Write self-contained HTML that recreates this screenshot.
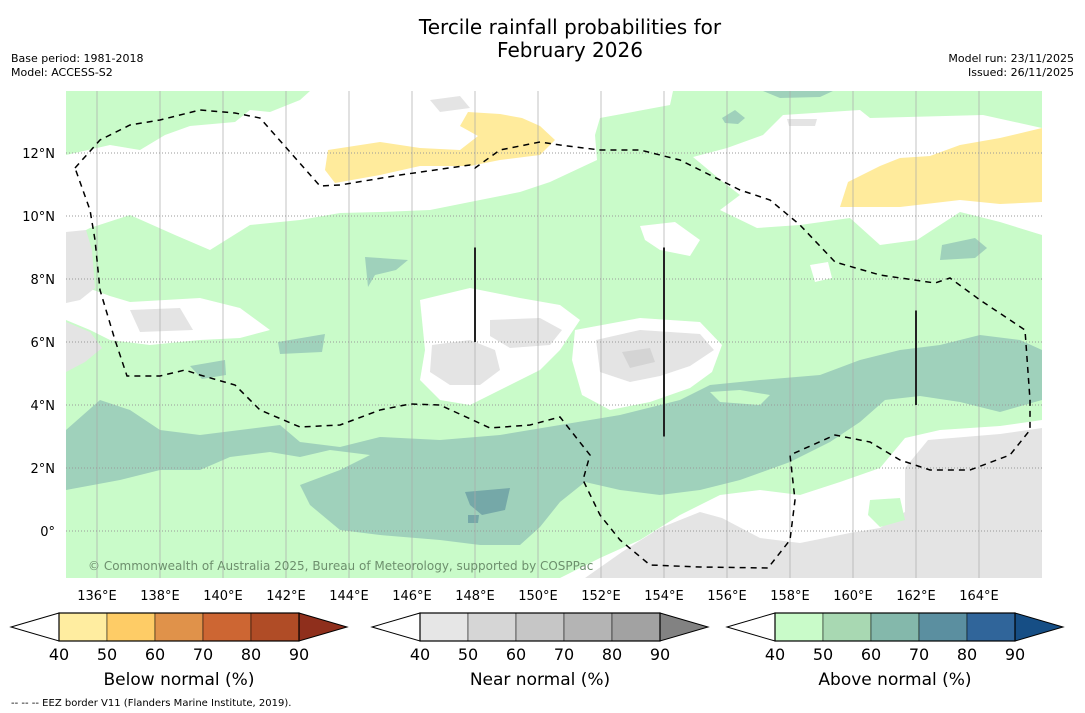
<!DOCTYPE html>
<html><head><meta charset="utf-8"><style>
body{margin:0;background:#fff;width:1085px;height:713px;overflow:hidden;font-family:"DejaVu Sans","Liberation Sans",sans-serif}
svg{position:absolute;left:0;top:0;font-family:"DejaVu Sans","Liberation Sans",sans-serif}
</style></head><body>
<svg width="1085" height="713">
<text x="570" y="34" font-size="20" text-anchor="middle">Tercile rainfall probabilities for</text>
<text x="570" y="57" font-size="20" text-anchor="middle">February 2026</text>
<text x="11" y="62" font-size="11">Base period: 1981-2018</text>
<text x="11" y="76" font-size="11">Model: ACCESS-S2</text>
<text x="1074" y="62" font-size="11" text-anchor="end">Model run: 23/11/2025</text>
<text x="1074" y="76" font-size="11" text-anchor="end">Issued: 26/11/2025</text>
<defs><clipPath id="mc"><rect x="66" y="91" width="976" height="487"/></clipPath></defs>
<g id="map" clip-path="url(#mc)"></g>
<g id="axes"></g>
<g id="cbars"></g>
<text x="11" y="706" font-size="10">--  --  -- EEZ border V11 (Flanders Marine Institute, 2019).</text>
</svg>
<script>
const NS='http://www.w3.org/2000/svg';
const lonTicks=[136,138,140,142,144,146,148,150,152,154,156,158,160,162,164];
const latTicks=[0,2,4,6,8,10,12];
const latLabels=['0°','2°N','4°N','6°N','8°N','10°N','12°N'];
const barLons=[148,154,162];
const barLatTop=[9,9,7];
const barLatBot=[6,3,4];
const cbTicks=[40,50,60,70,80,90];
const belowColors=['#ffeda0','#fecc66','#e0924a','#cd6633','#b04c26','#8f2f1c'];
const nearColors=['#e6e6e6','#d6d6d6','#c6c6c6','#b4b4b4','#a2a2a2','#828282'];
const aboveColors=['#c9fbc9','#a8d8b2','#84b8ab','#5b8fa0','#30659a','#164e85'];
function X(lon){return 97+(lon-136)*31.5;}
function Y(lat){return 531-lat*31.5;}
function el(t,a,p){const e=document.createElementNS(NS,t);for(const k in a)e.setAttribute(k,a[k]);p.appendChild(e);return e;}
const map=document.getElementById('map');
const shapes=[
['#ffffff','white-north',[[66,240],[90,228],[130,215],[175,235],[210,250],[250,225],[300,220],[340,213],[380,212],[430,210],[480,200],[520,192],[550,182],[597,160],[595,135],[600,118],[670,105],[673,91],[310,91],[300,100],[270,112],[250,110],[235,122],[190,126],[165,135],[140,150],[110,145],[66,155]]],
['#ffffff','white-northeast',[[693,157],[727,148],[763,135],[783,115],[860,110],[870,118],[983,115],[1042,128],[1042,235],[1000,222],[960,212],[917,240],[880,245],[850,218],[800,225],[757,228],[720,210],[740,195],[723,182]]],
['#ffffff','white-blob-ne1',[[640,226],[675,222],[700,240],[690,256],[660,250],[645,240]]],
['#ffffff','white-blob-ne2',[[810,265],[828,262],[832,278],[815,282]]],
['#ffffff','white-west',[[66,280],[110,296],[130,302],[200,298],[240,308],[270,330],[240,338],[200,340],[150,345],[110,340],[90,330],[66,320]]],
['#ffffff','white-center',[[420,300],[470,288],[520,298],[560,305],[580,320],[560,350],[540,370],[500,390],[470,405],[440,400],[420,380],[425,350]]],
['#ffffff','white-east',[[575,330],[640,318],[700,322],[722,345],[712,372],[690,388],[650,402],[610,410],[582,395],[572,360]]],
['#ffffff','white-southeast',[[560,578],[600,558],[640,540],[680,515],[720,495],[760,490],[800,495],[840,482],[880,468],[905,438],[940,430],[1000,426],[1042,420],[1042,578]]],
['#e4e4e4','gray-southeast',[[585,578],[622,552],[660,528],[700,512],[722,518],[760,538],[800,543],[850,533],[880,528],[905,512],[905,468],[928,440],[1000,434],[1042,428],[1042,578]]],
['#c9fbc9','green-patch-se',[[870,500],[900,498],[905,520],[880,527],[868,515]]],
['#e4e4e4','gray-west1',[[66,232],[86,230],[92,250],[95,288],[80,300],[66,303]]],
['#e4e4e4','gray-west2',[[66,322],[90,332],[102,348],[85,362],[66,372]]],
['#e4e4e4','gray-west3',[[130,310],[180,308],[193,330],[140,332]]],
['#e4e4e4','gray-center1',[[432,345],[470,340],[495,350],[500,370],[480,385],[450,385],[430,372]]],
['#e4e4e4','gray-center2',[[490,320],[540,318],[562,330],[550,345],[510,348],[490,336]]],
['#e4e4e4','gray-east',[[596,340],[640,330],[700,334],[714,350],[690,366],[660,376],[630,382],[600,372]]],
['#d4d4d4','gray-east-dark',[[622,352],[650,348],[655,362],[630,368]]],
['#e4e4e4','gray-top1',[[787,119],[817,119],[815,126],[789,126]]],
['#e4e4e4','gray-top2',[[430,100],[460,96],[470,108],[440,112]]],
['#9fd1bb','teal-band',[[66,430],[100,400],[130,410],[160,430],[200,435],[240,430],[280,425],[300,442],[340,447],[380,437],[440,440],[500,435],[560,425],[620,415],[680,400],[710,385],[760,380],[820,375],[860,360],[900,350],[940,345],[980,335],[1020,340],[1042,350],[1042,400],[1000,412],[960,402],[920,396],[885,400],[860,422],[830,442],[790,462],[740,480],[700,490],[660,495],[620,490],[585,482],[560,502],[540,527],[520,545],[480,545],[440,540],[380,535],[340,530],[310,505],[300,485],[340,470],[370,455],[330,450],[300,457],[270,452],[230,457],[200,470],[160,470],[120,480],[66,490]]],
['#c9fbc9','green-in-teal',[[710,392],[740,390],[770,395],[760,405],[720,402]]],
['#75a8a8','teal-dark1',[[465,492],[510,488],[505,510],[482,515],[470,505]]],
['#75a8a8','teal-dark2',[[468,515],[479,515],[478,523],[468,523]]],
['#9fd1bb','teal-p1',[[365,257],[408,260],[396,270],[375,275],[368,287]]],
['#9fd1bb','teal-p2',[[278,342],[325,334],[322,352],[280,354]]],
['#9fd1bb','teal-p3',[[190,366],[225,360],[226,375],[202,379]]],
['#9fd1bb','teal-p4',[[942,245],[975,238],[987,248],[975,258],[940,260]]],
['#9fd1bb','teal-p5',[[722,118],[735,110],[745,118],[738,124],[725,123]]],
['#9fd1bb','teal-p6',[[763,91],[833,91],[820,97],[780,98]]],
['#ffeb9c','yellow-north',[[328,150],[380,142],[420,148],[460,150],[478,136],[460,126],[468,112],[500,114],[522,118],[540,126],[555,140],[540,155],[500,160],[470,166],[420,166],[380,175],[335,183],[325,170]]],
['#ffeb9c','yellow-northeast',[[840,207],[848,182],[880,166],[900,158],[930,156],[960,145],[1000,138],[1042,128],[1042,202],[1000,204],[960,200],[900,207]]]
];
el('rect',{x:66,y:91,width:976,height:487,fill:'#c9fbc9'},map);
shapes.forEach(s=>{const p=el('polygon',{points:s[2].map(q=>q.join(',')).join(' '),fill:s[0]},map);

});
lonTicks.forEach(l=>{const g=el('line',{x1:X(l),x2:X(l),y1:91,y2:578,stroke:'#aaa','stroke-width':0.7},map);

});
latTicks.forEach(l=>{const g=el('line',{x1:66,x2:1042,y1:Y(l),y2:Y(l),stroke:'#999','stroke-width':1,'stroke-dasharray':'1,2'},map);

});
const eez=[[75,168],[100,140],[130,125],[160,120],[200,110],[235,113],[260,118],[320,186],[340,185],[400,175],[470,165],[475,168],[500,150],[540,142],[560,145],[600,150],[640,150],[680,160],[740,190],[770,200],[800,225],[835,262],[880,275],[935,283],[950,278],[980,300],[1025,330],[1030,400],[1030,430],[1010,455],[970,470],[930,470],[900,460],[870,442],[835,435],[790,455],[795,500],[790,540],[768,568],[700,567],[650,565],[620,540],[600,515],[583,480],[590,455],[560,417],[530,425],[490,428],[440,405],[410,404],[380,410],[340,425],[300,427],[260,410],[235,385],[200,375],[185,370],[160,376],[127,376],[115,340],[100,290],[95,240],[90,210],[75,168]];
const e=el('polyline',{points:eez.map(q=>q.join(',')).join(' '),fill:'none',stroke:'#000','stroke-width':1.5,'stroke-dasharray':'6,5'},map);


barLons.forEach((l,i)=>{const b=el('line',{x1:X(l),x2:X(l),y1:Y(barLatTop[i]),y2:Y(barLatBot[i]),stroke:'#222','stroke-width':2},map);

});
const cr=el('text',{x:88,y:570,'font-size':12,fill:'#6d8f6d'},map);cr.textContent='© Commonwealth of Australia 2025, Bureau of Meteorology, supported by COSPPac';


const ax=document.getElementById('axes');
lonTicks.forEach(l=>{const t=el('text',{x:X(l),y:600,'font-size':13,'text-anchor':'middle'},ax);t.textContent=l+'°E';

});
latTicks.forEach((l,i)=>{const t=el('text',{x:55,y:Y(l)+5,'font-size':13,'text-anchor':'end'},ax);t.textContent=latLabels[i];

});
const cb=document.getElementById('cbars');
function colorbar(x0,cols,label,name){
  const w=48,y0=613,h=28;
  const t1=el('polygon',{points:`${x0+w},${y0} ${x0},${y0+h/2} ${x0+w},${y0+h}`,fill:'#fff',stroke:'#000','stroke-width':1},cb);
  
  
  for(let i=0;i<5;i++){const r=el('rect',{x:x0+w*(i+1),y:y0,width:w,height:h,fill:cols[i],stroke:'#000','stroke-width':0.5},cb);
    
    }
  const t2=el('polygon',{points:`${x0+6*w},${y0} ${x0+7*w},${y0+h/2} ${x0+6*w},${y0+h}`,fill:cols[5],stroke:'#000','stroke-width':1},cb);
  
  
  el('rect',{x:x0+w,y:y0,width:5*w,height:h,fill:'none',stroke:'#000','stroke-width':1.2},cb);
  cbTicks.forEach((v,i)=>{const t=el('text',{x:x0+w*(i+1),y:y0+h+19,'font-size':16,'text-anchor':'middle'},cb);t.textContent=v;
    
    });
  const lb=el('text',{x:x0+w*3.5,y:685,'font-size':17,'text-anchor':'middle'},cb);lb.textContent=label;
  
  
}
colorbar(11,belowColors,'Below normal (%)','below-colorbar');
colorbar(372,nearColors,'Near normal (%)','near-colorbar');
colorbar(727,aboveColors,'Above normal (%)','above-colorbar');
</script>
</body></html>
